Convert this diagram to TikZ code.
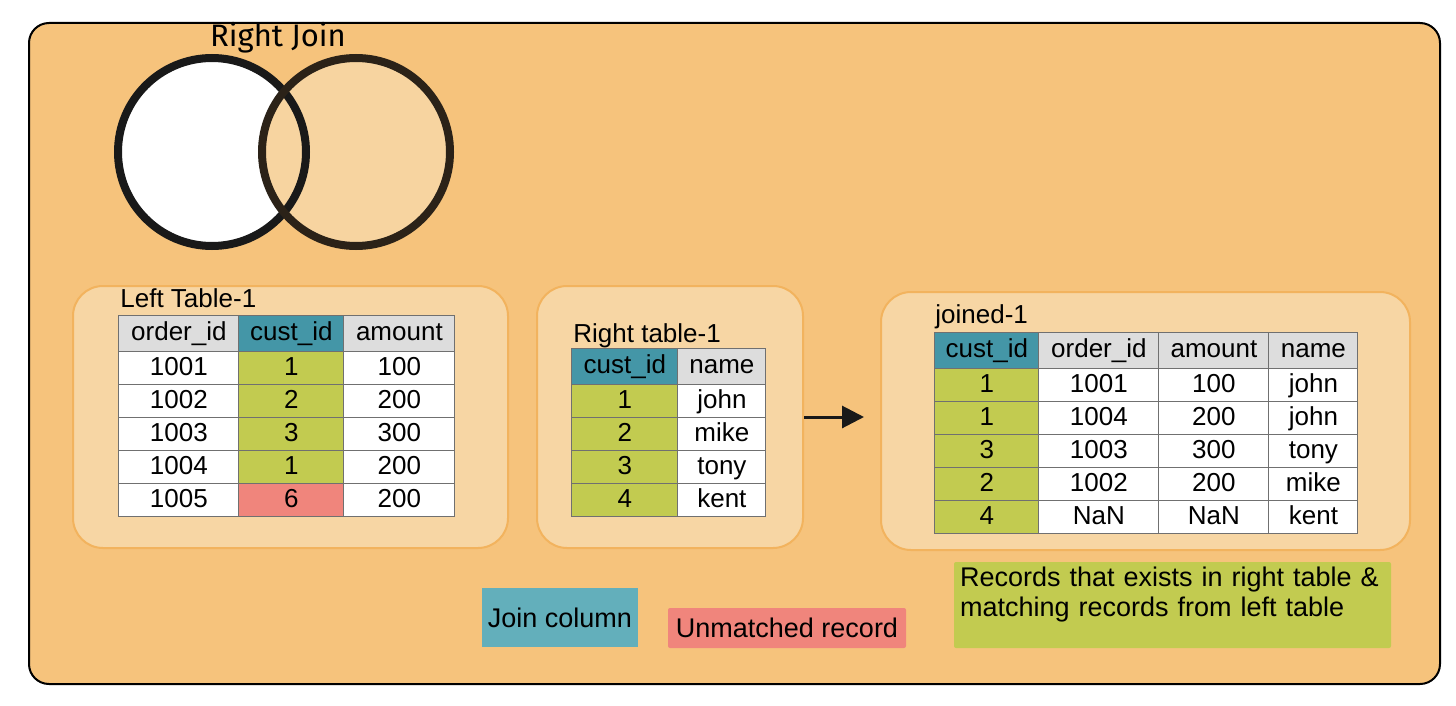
\documentclass[tikz,border=0pt]{standalone}
\usepackage{fontspec}
\setmainfont{Liberation Sans}
\newfontfamily\titlefont{Fira Sans}
\usetikzlibrary{arrows.meta, positioning, matrix}
\definecolor{bgorange}{HTML}{F6C37C}
\definecolor{panelfill}{HTML}{F7D6A4}
\definecolor{panelline}{HTML}{F2B35E}
\definecolor{headgray}{HTML}{DDDDDD}
\definecolor{keyteal}{HTML}{4496A7}
\definecolor{legendteal}{HTML}{63AFBB}
\definecolor{matchgreen}{HTML}{C2CB50}
\definecolor{missred}{HTML}{F0857C}
\definecolor{gridgray}{HTML}{707070}
\definecolor{setbrown}{HTML}{2B2218}
\definecolor{vennfill}{HTML}{F7D4A0}
\tikzset{
  frame/.style  ={rectangle, draw=black, line width=1pt, rounded corners=10pt,
                  fill=bgorange},
  panel/.style  ={rectangle, draw=panelline, line width=1pt, rounded corners=15pt,
                  fill=panelfill},
  cell/.style   ={rectangle, draw=gridgray, line width=0.5pt, fill=white,
                  minimum height=16.5pt, text height=9.4pt, text depth=2.6pt,
                  inner sep=0pt, font=\fontsize{13}{15}\selectfont},
  hd/.style     ={fill=headgray, minimum height=18pt},
  key/.style    ={fill=keyteal, minimum height=18pt},
  hit/.style    ={fill=matchgreen},
  miss/.style   ={fill=missred},
  tbl/.style    ={matrix of nodes, nodes={cell}, column sep=-0.5pt,
                  row sep=-0.5pt, inner sep=0pt, anchor=north west},
  caption/.style={font=\fontsize{13}{15}\selectfont, anchor=base west, inner sep=0pt},
  legend/.style ={rectangle, inner sep=0pt, font=\fontsize{13.5}{15}\selectfont},
  setline/.style={line width=4pt, draw=black!90},
  ar/.style     ={-{Triangle[length=11pt, width=11pt]}, line width=1.5pt, black!90}
}
\begin{document}
\begin{tikzpicture}[x=0.5pt, y=-0.5pt]
\useasboundingbox (0,0) rectangle (1456,706);
\node[frame, minimum width=705.5pt, minimum height=330.5pt] (frame) at (734.5,353.5) {};

% venn
\node[font=\titlefont\fontsize{15.5}{17}\selectfont, inner sep=0pt] (title) at (278,38) {Right Join};
\fill[white]    (212,152) circle[radius=47pt];
\fill[vennfill] (356,152) circle[radius=47pt];
\draw[setline]  (212,152) circle[radius=47pt];
\draw[setline, draw=setbrown] (356,152) circle[radius=47pt];

% panels
\node[panel, minimum width=217.5pt, minimum height=131pt] (lpanel) at (290.5,417) {};
\node[panel, minimum width=133pt,   minimum height=131pt] (rpanel) at (670,417) {};
\node[panel, minimum width=264.5pt, minimum height=129pt] (jpanel) at (1145.5,421) {};

% left table
\matrix[tbl, column 1/.style={nodes={minimum width=60pt}},
        column 2/.style={nodes={minimum width=52.5pt}},
        column 3/.style={nodes={minimum width=55.5pt}}] (lt) at (118,315) {
|[hd]| order\_id & |[key]| cust\_id & |[hd]| amount \\
1001 & |[hit]| 1  & 100 \\
1002 & |[hit]| 2  & 200 \\
1003 & |[hit]| 3  & 300 \\
1004 & |[hit]| 1  & 200 \\
1005 & |[miss]| 6 & 200 \\
};
\node[caption] (ltcap) at ([xshift=1pt, yshift=4pt]lt.north west) {Left Table-1};

% right table
\matrix[tbl, column 1/.style={nodes={minimum width=53pt}},
        column 2/.style={nodes={minimum width=44pt}}] (rt) at (571,348) {
|[key]| cust\_id & |[hd]| name \\
|[hit]| 1 & john \\
|[hit]| 2 & mike \\
|[hit]| 3 & tony \\
|[hit]| 4 & kent \\
};
\node[caption] (rtcap) at ([xshift=1pt, yshift=3pt]rt.north west) {Right table-1};

% joined table
\matrix[tbl, column 1/.style={nodes={minimum width=52pt}},
        column 2/.style={nodes={minimum width=60pt}},
        column 3/.style={nodes={minimum width=55pt}},
        column 4/.style={nodes={minimum width=44.5pt}}] (jt) at (934,332) {
|[key]| cust\_id & |[hd]| order\_id & |[hd]| amount & |[hd]| name \\
|[hit]| 1 & 1001 & 100 & john \\
|[hit]| 1 & 1004 & 200 & john \\
|[hit]| 3 & 1003 & 300 & tony \\
|[hit]| 2 & 1002 & 200 & mike \\
|[hit]| 4 & NaN  & NaN & kent \\
};
\node[caption] (jtcap) at ([xshift=0.5pt, yshift=4.5pt]jt.north west) {joined-1};

\draw[ar, shorten >=8pt] (rpanel.east) -- (jpanel.west |- rpanel.east);

% legend
\node[legend, fill=legendteal, minimum width=78pt, minimum height=29.5pt] (keylegend) at (560,617.5) {Join column};
\node[legend, fill=missred, rounded corners=1pt, minimum width=119pt, minimum height=20pt] (misslegend) at (787,628) {Unmatched record};
\node[legend, fill=matchgreen, rounded corners=1pt, minimum width=218.5pt, minimum height=43pt,
      text width=212.5pt, align=left] (hitlegend) at (1172.5,605)
      {Records that exists in right table \&\\ matching records from left table\\[-6pt]\strut};
\end{tikzpicture}
\end{document}
